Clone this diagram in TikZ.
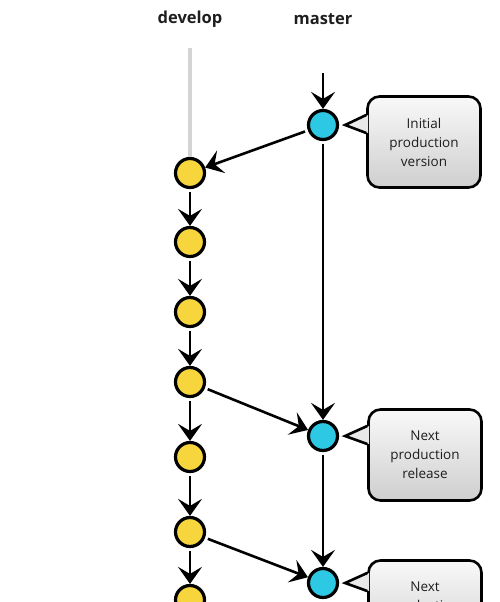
\documentclass[tikz,border=0pt]{standalone}
\usepackage{fontspec}
\setmainfont{Open Sans}
\usetikzlibrary{arrows.meta, positioning, calc}
\definecolor{devYellow}{HTML}{F7D53C}
\definecolor{masterCyan}{HTML}{2CC8E4}
\definecolor{lineGray}{HTML}{D4D4D4}
\definecolor{textDark}{HTML}{1E1E1E}

\begin{document}
\begin{tikzpicture}[x=1pt, y=-1pt,
    commit/.style={circle, draw=black, line width=3.2pt, fill=#1,
                   minimum size=29pt, inner sep=0pt},
    flow/.style={draw=black, line width=2.6pt, shorten <=3pt,
                 -{Stealth[length=17pt, width=24pt, inset=7pt]}},
    branch/.style={font=\bfseries\fontsize{16.5}{18}\selectfont, text=textDark},
    note/.style={rectangle, rounded corners=12pt, draw=black, line width=2.6pt,
                 top color=gray!5, bottom color=gray!38,
                 minimum width=113pt, minimum height=91pt,
                 font=\fontsize{13.5}{19}\selectfont, text=textDark, align=center},
  ]
    \clip (0,0) rectangle (500,602);

    % branch names
    \node[branch] (devlabel) at (190,19) {develop};
    \node[branch] (masterlabel) at (323,19) {master};

    % develop commits
    \foreach \y [count=\i] in {173,242,312,382,457,532,600}
      \node[commit=devYellow] (d\i) at (190,\y) {};
    \coordinate (dtop) at (190,48);
    \draw[lineGray, line width=4pt] (dtop) -- (d1.north);
    \foreach \i [count=\j from 2] in {1,...,6}
      \draw[flow] (d\i) -- (d\j);

    % master commits
    \node[commit=masterCyan] (m1) at (323,125) {};
    \node[commit=masterCyan] (m2) at (323,436) {};
    \node[commit=masterCyan] (m3) at (323,583) {};
    \coordinate (mtop) at (323,70);
    \draw[flow] (mtop) -- (m1);
    \draw[flow] (m1) -- (m2);
    \draw[flow] (m2) -- (m3);

    % merges between branches
    \draw[flow] (m1) -- (d1);
    \draw[flow] (d4) -- (m2);
    \draw[flow] (d6) -- (m3);

    % release notes
    \node[note] (n1) at (424,142) {Initial\\production\\version};
    \node[note] (n2) at (425,455) {Next\\production\\release};
    \node[note] (n3) at (425,606) {Next\\production\\release};

    \foreach \n/\m in {n1/m1, n2/m2, n3/m3} {
      \coordinate (tip) at ($(\m.east)+(6,0)$);
      \fill[gray!17] ($(\n.west |- \m)+(2,-10)$) -- (tip)
        -- ($(\n.west |- \m)+(2,8)$) -- cycle;
      \draw[line width=2.6pt, line join=miter] ($(\n.west |- \m)+(0,-10)$)
        -- (tip) -- ($(\n.west |- \m)+(0,8)$);
    }
\end{tikzpicture}
\end{document}
